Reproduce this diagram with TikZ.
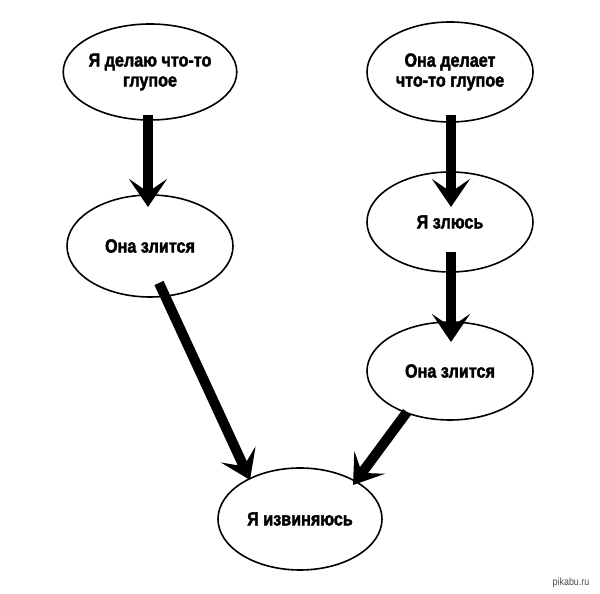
\documentclass[tikz,border=0pt]{standalone}
\usepackage{fontspec}
\setmainfont{Liberation Sans}[FakeStretch=0.85, BoldFeatures={FakeBold=2}]
\usetikzlibrary{shapes.geometric,arrows.meta}
\tikzset{
  st/.style={ellipse, draw, line width=1.6pt, minimum width=166pt, minimum height=100pt,
    inner sep=0pt, align=center, font=\fontsize{19}{20}\selectfont\bfseries},
  bigarrow/.style={line width=10pt, -{Stealth[length=28pt,width=38pt,inset=13pt]}}
}
\begin{document}
\begin{tikzpicture}[x=1pt,y=1pt]
\useasboundingbox[fill=white] (0,0) rectangle (600,594);
\node[st, minimum height=96pt] (e1) at (150,522) {Я делаю что-то\\глупое};
\node[st, minimum height=102pt] (e2) at (150,348) {Она злится};
\node[st] (e3) at (450,522) {Она делает\\что-то глупое};
\node[st] (e4) at (450,372) {Я злюсь};
\node[st, minimum height=98pt] (e5) at (450,223) {Она злится};
\node[st, minimum width=164pt, minimum height=102pt] (e6) at (300,75) {Я извиняюсь};
\draw[bigarrow] ([shift={(-2,-43)}]e1.center) -- ([shift={(-2,39)}]e2.center);
\draw[bigarrow] ([shift={(1,-43)}]e3.center) -- ([shift={(1,15)}]e4.center);
\draw[bigarrow] ([shift={(1,-30)}]e4.center) -- ([shift={(1,29)}]e5.center);
\draw[bigarrow] ([shift={(9,-37)}]e2.center) -- ([shift={(-50,39)}]e6.center);
\draw[bigarrow] ([shift={(-43,-41)}]e5.center) -- ([shift={(53,34)}]e6.center);
\node[font=\fontsize{10.5}{11}\selectfont, text=black!70] (wm) at (571,11) {pikabu.ru};
\end{tikzpicture}
\end{document}
